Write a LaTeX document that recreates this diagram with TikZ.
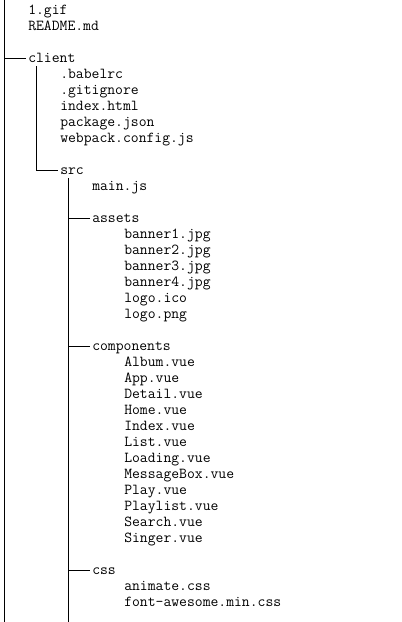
\documentclass[tikz,border=0pt]{standalone}
\usepackage{fontspec}
\begin{document}
\begin{tikzpicture}[x=0.75pt,y=-0.75pt,
  file/.style={anchor=base west, inner sep=0pt, text=black,
    font=\ttfamily\fontsize{11.43pt}{13pt}\selectfont},
  tree/.style={line width=0.75pt, draw=black}]
\useasboundingbox (0,0) rectangle (402,622);
\fill[white] (0,0) rectangle (402,622);
% level 0
\node[file] (gif) at (28,14) {1.gif};
\node[file] (readme) at (28,30) {README.md};
\node[file] (client) at (28,62) {client};
% level 1 (client)
\foreach \name/\txt [count=\i from 4] in {babel/.babelrc, git/.gitignore, idx/index.html, pkg/package.json, wp/webpack.config.js}
  \node[file] (\name) at (60,{14+16*\i}) {\txt};
\node[file] (src) at (60,{14+16*10}) {src};
% level 2 (src)
\node[file] (main) at (92,{14+16*11}) {main.js};
\node[file] (assets) at (92,{14+16*13}) {assets};
\node[file] (components) at (92,{14+16*21}) {components};
\node[file] (css) at (92,{14+16*35}) {css};
% level 3
\foreach \name/\txt [count=\i from 14] in {b1/banner1.jpg, b2/banner2.jpg, b3/banner3.jpg, b4/banner4.jpg, lico/logo.ico, lpng/logo.png}
  \node[file] (\name) at (124,{14+16*\i}) {\txt};
\foreach \name/\txt [count=\i from 22] in {album/Album.vue, app/App.vue, detail/Detail.vue, home/Home.vue, index/Index.vue, list/List.vue, loading/Loading.vue, msg/MessageBox.vue, play/Play.vue, playlist/Playlist.vue, search/Search.vue, singer/Singer.vue}
  \node[file] (\name) at (124,{14+16*\i}) {\txt};
\node[file] (anim) at (124,{14+16*36}) {animate.css};
\node[file] (fa) at (124,{14+16*37}) {font-awesome.min.css};
% tree lines
\coordinate (r0) at (4,0);
\coordinate (r1) at (4,622);
\coordinate (rc) at (4,58);
\coordinate (c0) at (36,66);
\coordinate (cs) at (36,170);
\coordinate (s0) at (68,178);
\coordinate (s1) at (68,622);
\coordinate (sa) at (68,218);
\coordinate (sc) at (68,346);
\coordinate (sx) at (68,570);
\draw[tree] (r0) -- (r1);
\draw[tree] (rc) -- ([xshift=-1.5]rc -| client.west);
\draw[tree] (c0) -- (cs) -- ([xshift=-1.5]cs -| src.west);
\draw[tree] (s0) -- (s1);
\draw[tree] (sa) -- ([xshift=-1.5]sa -| assets.west);
\draw[tree] (sc) -- ([xshift=-1.5]sc -| components.west);
\draw[tree] (sx) -- ([xshift=-1.5]sx -| css.west);
\end{tikzpicture}
\end{document}
